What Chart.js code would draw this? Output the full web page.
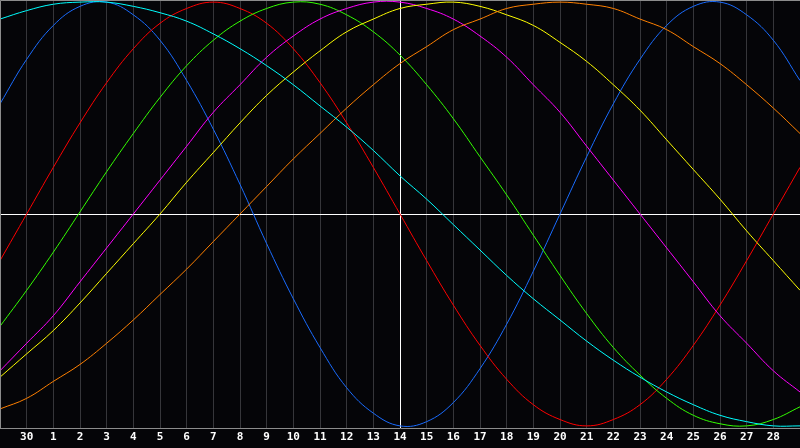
<!DOCTYPE html>
<html>
<head>
<meta charset="utf-8">
<script src="https://cdn.jsdelivr.net/npm/chart.js@4.4.0/dist/chart.umd.min.js"></script>
<style>
  html, body { margin: 0; padding: 0; background: #050508; }
  #bioChart { display: block; }
</style>
</head>
<body>
<canvas id="bioChart" width="800" height="448"></canvas>
<script>
// days along the bottom (first and last are at the edges, not labelled)
const days = ['29', '30', '1', '2', '3', '4', '5', '6', '7', '8', '9', '10', '11', '12', '13', '14',
  '15', '16', '17', '18', '19', '20', '21', '22', '23', '24', '25', '26', '27', '28', '29'];

const physical = [52, 73, 89, 98, 100, 94, 82, 63, 40, 14, -14, -40, -63, -82, -94, -100,
  -98, -89, -73, -52, -27, 0, 27, 52, 73, 89, 98, 100, 94, 82, 63];
const emotional = [-22, 0, 22, 43, 62, 78, 90, 97, 100, 97, 90, 78, 62, 43, 22, 0,
  -22, -43, -62, -78, -90, -97, -100, -97, -90, -78, -62, -43, -22, 0, 22];
const intellectual = [-53, -36, -18, 1, 20, 38, 55, 70, 82, 91, 97, 100, 99, 94, 86, 75,
  61, 45, 27, 9, -10, -29, -47, -63, -76, -87, -95, -99, -100, -97, -91];
const intuitive = [-74, -61, -48, -32, -16, 0, 16, 32, 48, 61, 74, 84, 92, 97, 100, 100,
  97, 92, 84, 74, 61, 48, 32, 16, 0, -16, -32, -48, -61, -74, -84];
const aesthetic = [-77, -66, -55, -42, -28, -14, 0, 15, 29, 43, 56, 67, 77, 86, 92, 97,
  99, 100, 98, 94, 89, 81, 72, 61, 49, 35, 21, 7, -8, -22, -36];
const awareness = [-92, -87, -79, -71, -61, -50, -38, -26, -13, 0, 13, 26, 38, 50, 61, 71,
  79, 87, 92, 97, 99, 100, 99, 97, 92, 87, 79, 71, 61, 50, 38];
const spiritual = [92, 96, 99, 100, 100, 98, 95, 91, 85, 78, 70, 61, 51, 41, 30, 18,
  7, -5, -17, -29, -40, -50, -60, -69, -77, -84, -90, -95, -98, -100, -100];

const todayIndex = 15;

function curve(values, color) {
  return {
    data: values,
    borderColor: color,
    borderWidth: 1,
    pointRadius: 0,
    pointHoverRadius: 0,
    tension: 0.4,
    fill: false,
  };
}

// thin gray frame on the left and top of the plot
const framePlugin = {
  id: 'frame',
  afterDraw(chart) {
    const { ctx, chartArea } = chart;
    ctx.save();
    ctx.strokeStyle = '#8c8c8c';
    ctx.lineWidth = 1;
    ctx.beginPath();
    ctx.moveTo(chartArea.left + 0.5, chartArea.bottom);
    ctx.lineTo(chartArea.left + 0.5, chartArea.top + 0.5);
    ctx.lineTo(chartArea.right, chartArea.top + 0.5);
    ctx.stroke();
    ctx.restore();
  }
};

document.addEventListener('DOMContentLoaded', function () {
  const bioChart = document.getElementById('bioChart');

  const data = {
    labels: days,
    datasets: [
      curve(spiritual, '#00ffff'),
      curve(awareness, '#ff8000'),
      curve(aesthetic, '#ffff00'),
      curve(intuitive, '#ff00ff'),
      curve(intellectual, '#33ff00'),
      curve(emotional, '#ff0000'),
      curve(physical, '#1a6cff'),
    ]
  };

  const config = {
    type: 'line',
    data: data,
    plugins: [framePlugin],
    options: {
      responsive: false,
      animation: false,
      layout: { padding: 0, autoPadding: false },
      plugins: {
        legend: { display: false },
        tooltip: { enabled: false },
      },
      scales: {
        x: {
          offset: false,
          afterFit: (scale) => { scale.height = 20; scale.paddingLeft = 0; scale.paddingRight = 0; },
          grid: {
            drawTicks: false,
            color: (c) => c.index === todayIndex ? '#ffffff' : '#36363a',
            lineWidth: 1,
          },
          border: { display: true, color: '#8c8c8c' },
          ticks: {
            autoSkip: false,
            maxRotation: 0,
            padding: 3,
            color: '#ffffff',
            font: { family: 'DejaVu Sans Mono', size: 11, weight: 'bold' },
            callback: (v, i) => (i === 0 || i === days.length - 1) ? '' : days[i],
          },
        },
        y: {
          min: -101,
          max: 101,
          afterFit: (scale) => { scale.width = 0; },
          ticks: { display: false },
          grid: {
            drawTicks: false,
            color: (c) => c.tick.value === 0 ? '#ffffff' : 'rgba(0,0,0,0)',
          },
          border: { display: false },
        }
      }
    }
  };

  new Chart(bioChart, config);
});
</script>
</body>
</html>
